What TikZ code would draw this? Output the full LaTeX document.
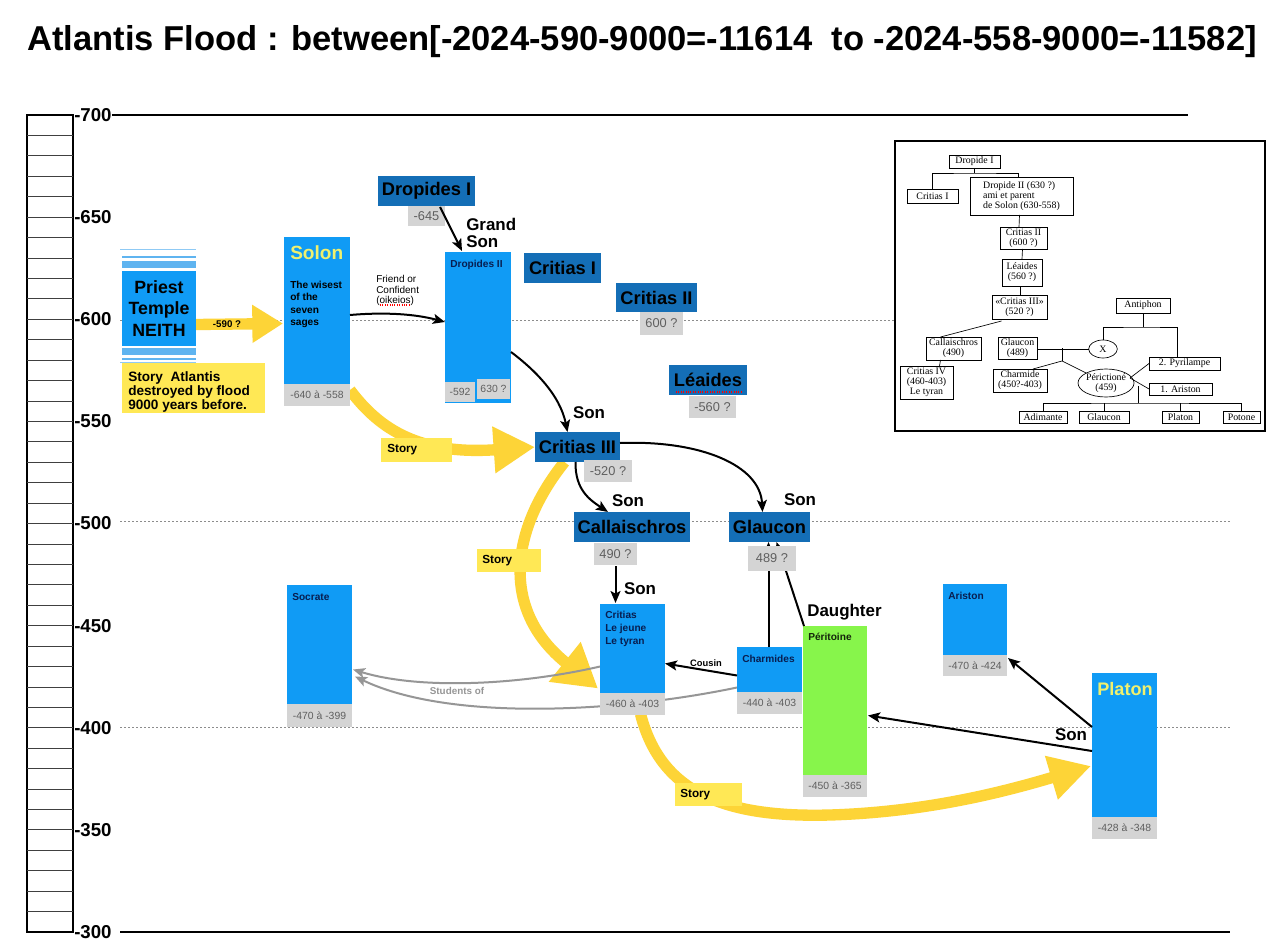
\documentclass[tikz,border=0pt]{standalone}
\usepackage{fontspec}
\setmainfont{Liberation Sans}
\newfontfamily\insetfont{Liberation Serif}
\usetikzlibrary{arrows.meta,fit,calc,shapes.geometric}
\definecolor{mblue}{RGB}{16,155,245}
\definecolor{lblue}{RGB}{95,180,240}
\definecolor{dblue}{RGB}{20,110,182}
\definecolor{navy}{RGB}{8,30,80}
\definecolor{gbox}{RGB}{212,212,212}
\definecolor{gtext}{RGB}{95,95,95}
\definecolor{ybox}{RGB}{255,232,85}
\definecolor{yarrow}{RGB}{253,212,55}
\definecolor{syellow}{RGB}{240,240,110}
\definecolor{green}{RGB}{135,245,75}
\definecolor{garrow}{RGB}{150,150,150}
\definecolor{dotgrey}{RGB}{140,140,140}
\newcommand\fsz[2]{\fontsize{#1}{#2}\selectfont}
\pgfdeclarelayer{bg}
\pgfsetlayers{bg,main}
\begin{document}
\begin{tikzpicture}[x=0.75pt,y=-0.75pt,
  box/.style={inner sep=0pt, outer sep=0pt, draw=none},
  bl/.style={box, fill=mblue},
  gr/.style={box, fill=green},
  db/.style={box, fill=dblue},
  dbt/.style={inner sep=0pt, font=\bfseries\fsz{13.7}{15}},
  gd/.style={box, fill=gbox},
  gdt/.style={inner sep=0pt, text=gtext, font=\fsz{7.8}{9}},
  gdlt/.style={inner sep=0pt, text=gtext, font=\fsz{9.6}{11}},
  yb/.style={box, fill=ybox},
  ytxt/.style={anchor=west, inner sep=0pt, font=\bfseries\fsz{8.8}{10}},
  bt/.style={anchor=north west, inner sep=0pt, text=navy, font=\bfseries\fsz{7.6}{9.6}, align=left},
  lbl/.style={inner sep=0pt, font=\bfseries\fsz{12.7}{12.75}, align=left},
  blk/.style={line width=1.5pt, -{Stealth[length=9pt,width=7.5pt,inset=2pt]}},
  gar/.style={draw=garrow, line width=1.5pt, -{Stealth[length=9pt,width=7.5pt,inset=2pt]}},
  yarr/.style={draw=yarrow, line width=8.5pt},
  dotl/.style={draw=dotgrey, line width=0.7pt, dash pattern=on 1.5pt off 1.5pt},
  ib/.style={draw, line width=0.5pt, inner sep=0pt, outer sep=0pt, fill=white},
  ibt/.style={inner sep=0pt, font=\insetfont\fsz{7.4}{7.5}, align=center},
  il/.style={line width=0.5pt}
]
\useasboundingbox (0,0) rectangle (1280,941);
\begin{pgfonlayer}{bg}
\fill[white] (0,0) rectangle (1280,941);
\draw[dotl] (120,320) -- (895,320);
\draw[dotl] (120,521) -- (1230,521);
\draw[dotl] (120,727) -- (1230,727);
\end{pgfonlayer}

% title
\node[anchor=base west, inner sep=0pt, font=\bfseries\fsz{25.9}{30}] (title) at (27,51)
  {Atlantis Flood : between[-2024-590-9000=-11614~ to -2024-558-9000=-11582]};

% axis ladder
\draw[line width=0.8pt] (27,115) rectangle (73,932);
\foreach \i in {1,...,39} {\draw[line width=0.6pt, draw=black!75] (27,{115+\i*20.425}) -- (73,{115+\i*20.425});}
\foreach \v [count=\k from 0] in {700,650,600,550,500,450,400,350,300}
  {\node[anchor=west, inner sep=0pt, font=\bfseries\fsz{14}{16}] (ax\v) at (74,{115+\k*102.125}) {-\v};}
\draw[line width=0.8pt] (ax700.east) -- (1188,115);
\draw[line width=0.8pt] (120,932) -- (1230,932);

% Priest temple
\fill[lblue!70] (120,249) rectangle (196,250);
\fill[lblue] (122,256) rectangle (196,258);
\fill[lblue] (122,261) rectangle (196,268);
\fill[lblue] (122,348) rectangle (196,355);
\fill[lblue] (122,358) rectangle (196,360);
\fill[lblue!70] (120,362) rectangle (196,363);
\node[bl, fit={(122,271)(196,346)}] (priest) {};
\node[inner sep=0pt, align=center, font=\bfseries\fsz{13.3}{16.1}] at (priest.center) {Priest\\Temple\\NEITH};
\node[yb, fit={(122,363)(265,413)}] (storyA) {};
\node[anchor=north west, inner sep=0pt, align=left, font=\bfseries\fsz{10.2}{9.4}] at (128,371) {Story~ Atlantis\\destroyed by flood\\9000 years before.};

% Solon
\node[bl, fit={(284,237)(350,384)}] (solon) {};
\node[gd, fit={(284,384)(350,406)}] (dsolon) {};
\node[gdt] at (dsolon.center) {-640 à -558};
\node[anchor=base west, inner sep=0pt, text=syellow, font=\bfseries\fsz{14.3}{16}] at (290,259) {Solon};
\node[anchor=north west, inner sep=0pt, align=left, font=\bfseries\fsz{7.6}{9.4}] at (290,280.5) {The wisest\\of the\\seven\\sages};

% Dropides I
\node[db, fit={(378,176)(475,206)}] (D1) {};
\node[dbt] at (D1.center) {Dropides I};
\node[gd, fit={(408,206)(445,226)}] (dD1) {};
\node[gdlt] at (dD1.center) {-645};
\node[lbl, anchor=north west] at (466,217.5) {Grand\\Son};

% Dropides II
\node[bl, fit={(445,252)(511,403)}] (D2) {};
\node[gd, fit={(445,382)(475,402)}] (dD2a) {};
\node[gdt] at (dD2a.center) {-592};
\node[gd, fit={(477,379)(510,399)}] (dD2b) {};
\node[gdt] at (dD2b.center) {630 ?};
\node[bt] at (450,260) {Dropides II};

% Friend label
\node[anchor=north west, inner sep=0pt, align=left, font=\fsz{7.5}{7.9}] at (376,275) {Friend or\\Confident\\(oikeios)};
\draw[red, densely dotted, line width=0.8pt] (380,305) -- (411,305);

% Critias I, II, Leaides
\node[db, fit={(524,253)(601,283)}] (C1) {};
\node[dbt] at (C1.center) {Critias I};
\node[db, fit={(616,283)(697,312)}] (C2) {};
\node[dbt] at (C2.center) {Critias II};
\node[gd, fit={(640,312)(683,335)}] (dC2) {};
\node[gdlt] at (dC2.center) {600 ?};
\node[db, fit={(669,365)(747,395)}] (L) {};
\node[dbt] at (L.center) {Léaides};
\draw[red, densely dotted, line width=0.8pt] (676,392) -- (741,392);
\node[gd, fit={(689,396)(736,418)}] (dL) {};
\node[gdlt] at (dL.center) {-560 ?};

% Critias III
\node[db, fit={(535,432)(620,462)}] (C3) {};
\node[dbt] at (C3.center) {Critias III};
\node[gd, fit={(584,460)(632,482)}] (dC3) {};
\node[gdlt] at (dC3.center) {-520 ?};

% Callaischros, Glaucon
\node[db, fit={(574,512)(690,542)}] (Ca) {};
\node[dbt] at (Ca.center) {Callaischros};
\node[gd, fit={(594,543)(637,565)}] (dCa) {};
\node[gdlt] at (dCa.center) {490 ?};
\node[db, fit={(729,512)(810,542)}] (Gl) {};
\node[dbt] at (Gl.center) {Glaucon};

% Critias le jeune
\node[bl, fit={(600,604)(665,693)}] (CJ) {};
\node[gd, fit={(600,693)(665,715)}] (dCJ) {};
\node[gdt] at (dCJ.center) {-460 à -403};
\node[bt] at (605,611) {Critias\\Le jeune\\Le tyran};

% Charmides
\node[bl, fit={(737,647)(802,692)}] (Ch) {};
\node[gd, fit={(737,692)(802,714)}] (dCh) {};
\node[gdt] at (dCh.center) {-440 à -403};
\node[bt] at (742,655) {Charmides};

% Peritoine
\node[gr, fit={(803,626)(867,775)}] (Pe) {};
\node[gd, fit={(803,775)(867,797)}] (dPe) {};
\node[gdt] at (dPe.center) {-450 à -365};
\node[bt, text=black!85!green] at (808,632.5) {Péritoine};
\node[lbl, anchor=west] at (807,612) {Daughter};

% Socrate
\node[bl, fit={(287,585)(352,704)}] (So) {};
\node[gd, fit={(287,704)(352,727)}] (dSo) {};
\node[gdt] at (dSo.center) {-470 à -399};
\node[bt] at (292,593) {Socrate};

% Ariston
\node[bl, fit={(943,584)(1007,655)}] (Ar) {};
\node[gd, fit={(943,655)(1007,676)}] (dAr) {};
\node[gdt] at (dAr.center) {-470 à -424};
\node[bt] at (948,592) {Ariston};

% Platon
\node[bl, fit={(1092,673)(1157,817)}] (Pl) {};
\node[gd, fit={(1092,817)(1157,839)}] (dPl) {};
\node[gdt] at (dPl.center) {-428 à -348};
\node[anchor=base west, inner sep=0pt, text=syellow, font=\bfseries\fsz{13.6}{16}] at (1097,695) {Platon};

% yellow story arrows
\begin{pgfonlayer}{bg}
\draw[yarr, -{Triangle[length=23pt,width=27pt]}] ($(priest.east)+(0,16)$) -- ($(solon.west)+(-1,13)$);
\draw[yarr, -{Triangle[length=31pt,width=33pt]}] ($(dsolon.north east)+(0,6)$) .. controls (380,430) and (420,455) .. (C3.west);
\draw[yarr, -{Triangle[length=32pt,width=36pt]}] ($(C3.south)+(-13,0)$) .. controls (510,530) and (500,610) .. ($(CJ.west)+(-2,40)$);
\draw[yarr, -{Triangle[length=31pt,width=32pt]}] ($(dCJ.south)+(8,-1)$) .. controls (660,790) and (720,818) .. (830,815) .. controls (930,812) and (1010,790) .. ($(Pl.west)+(-1,21)$);
% students of
\draw[gar] ($(CJ.west)+(0,18)$) .. controls (520,685) and (420,690) .. ($(So.east)+(1,25)$);
\draw[gar] ($(Ch.west)+(0,18)$) .. controls (620,712) and (450,722) .. ($(So.east)+(3,32)$);
\end{pgfonlayer}
\node[inner sep=0pt, text=garrow, font=\bfseries\fsz{7.4}{9}] at (457,691) {Students of};
\node[inner sep=0pt, font=\bfseries\fsz{7.3}{9}] at (227,324) {-590 ?};

\node[yb, fit={(381,438)(452,462)}] (sy1) {};
\node[ytxt] at (387,450) {Story};
\node[yb, fit={(477,549)(541,572)}] (sy2) {};
\node[ytxt] at (482,560.5) {Story};
\node[yb, fit={(675,783)(742,806)}] (sy3) {};
\node[ytxt] at (680,795) {Story};

% black connectors
\draw[blk] ($(dD1.north east)+(-5,1)$) -- ($(D2.north)+(-16,-1)$);
\draw[blk] ($(solon.north east)+(0,78)$) .. controls (385,312) and (415,314) .. ($(D2.north west)+(0,70)$);
\draw[blk] ($(D2.north east)+(0,100)$) .. controls (535,370) and (560,395) .. ($(C3.north)+(-10,0)$);
\node[lbl] at (589,413) {Son};
\draw[blk] ($(C3.south)+(-2,0)$) .. controls (575,490) and (590,500) .. ($(Ca.north)+(-24,0)$);
\node[lbl] at (628,501) {Son};
\draw[blk] ($(C3.east)+(0,-4)$) .. controls (700,440) and (760,465) .. ($(Gl.north)+(-7,0)$);
\node[lbl] at (800,500) {Son};
\draw[blk] ($(dCa.south)+(0,1)$) -- ($(CJ.north)+(-17,-1)$);
\node[lbl] at (640,589) {Son};
\draw[blk] ($(Ch.north)+(-1,0)$) -- ($(Gl.south)+(-1,0)$);
\draw[blk] ($(Pe.north west)+(1,0)$) -- ($(Gl.south)+(7,0)$);
\node[gd, fit={(748,546)(796,571)}] (dGl) {};
\node[gdlt] at (dGl.center) {489 ?};
\draw[blk] ($(Ch.west)+(0,6)$) -- ($(CJ.east)+(0,15)$);
\node[inner sep=0pt, font=\bfseries\fsz{7}{9}] at (706,663) {Cousin};
\draw[blk] ($(Pl.north west)+(0,54)$) -- ($(dAr.north east)+(1,3)$);
\draw[blk] ($(Pl.north west)+(0,78)$) -- ($(Pe.east)+(1,15)$);
\node[lbl] at (1071,735) {Son};

% inset family tree
\node[draw, line width=0.8pt, fill=white, inner sep=0pt, fit={(895,141)(1265,431)}] (inset) {};
\node[ib, fit={(949,155)(1000,168)}] (iD1) {};
\node[ibt] at (iD1.center) {Dropide I};
\node[ib, fit={(907,189)(958,203)}] (iC1) {};
\node[ibt] at (iC1.center) {Critias I};
\node[ib, fit={(970,177)(1073,215)}] (iD2) {};
\node[ibt, align=left] at (iD2.center) {Dropide II (630 ?)\\ami et parent\\de Solon (630-558)};
\node[ib, fit={(1000,227)(1047,249)}] (iC2) {};
\node[ibt] at (iC2.center) {Critias II\\(600 ?)};
\node[ib, fit={(1002,259)(1042,286)}] (iL) {};
\node[ibt] at (iL.center) {Léaides\\(560 ?)};
\node[ib, fit={(992,295)(1047,319)}] (iC3) {};
\node[ibt] at (iC3.center) {«Critias III»\\(520 ?)};
\node[ib, fit={(1116,298)(1170,313)}] (iAn) {};
\node[ibt] at (iAn.center) {Antiphon};
\node[ib, fit={(926,337)(981,360)}] (iCa) {};
\node[ibt] at (iCa.center) {Callaischros\\(490)};
\node[ib, fit={(998,337)(1037,359)}] (iGl) {};
\node[ibt] at (iGl.center) {Glaucon\\(489)};
\node[ib, ellipse, minimum width=21.5pt, minimum height=13.5pt] (iX) at (1103,349) {};
\node[ibt] at (iX.center) {X};
\node[ib, fit={(900,366)(953,399)}] (iC4) {};
\node[ibt] at (iC4.center) {Critias IV\\(460-403)\\Le tyran};
\node[ib, fit={(993,369)(1047,392)}] (iCh) {};
\node[ibt] at (iCh.center) {Charmide\\(450?-403)};
\node[ib, ellipse, minimum width=42pt, minimum height=21pt] (iPe) at (1106,383) {};
\node[ibt] at (iPe.center) {Périctioné\\(459)};
\node[ib, fit={(1149,357)(1220,370)}] (iPy) {};
\node[ibt] at (iPy.center) {2. Pyrilampe};
\node[ib, fit={(1149,383)(1212,395)}] (iAr) {};
\node[ibt] at (iAr.center) {1. Ariston};
\node[ib, fit={(1019,411)(1067,423)}] (iAd) {};
\node[ibt] at (iAd.center) {Adimante};
\node[ib, fit={(1079,411)(1129,423)}] (iG2) {};
\node[ibt] at (iG2.center) {Glaucon};
\node[ib, fit={(1162,411)(1199,423)}] (iPl) {};
\node[ibt] at (iPl.center) {Platon};
\node[ib, fit={(1223,411)(1260,423)}] (iPo) {};
\node[ibt] at (iPo.center) {Potone};

\draw[il] (iD1.south) -- ++(0,5) coordinate (j1);
\draw[il] (iC1.north) |- (j1) -| ($(iD2.north)+(-3,0)$);
\draw[il] ($(iD2.south)+(-2,0)$) -- ($(iC2.north)+(-4.5,0)$);
\draw[il] ($(iC2.south)+(-1,0)$) -- ($(iL.north)+(0,0)$);
\draw[il] ($(iL.south)+(-2,0)$) -- ($(iC3.north)+(0.5,0)$);
\draw[il] ($(iC3.south)+(-18,2)$) -- ($(iCa.north)+(-13,0)$);
\draw[il] ($(iCa.south)+(-13,0)$) -- ($(iC4.north)+(13,0)$);
\draw[il] (iGl.east |- iX.west) -- (iX.west);
\draw[il] (1062,348) -- (1062,361) coordinate (j2);
\draw[il] (j2) -- ($(iCh.north east)+(-14,0)$);
\draw[il] (j2) -- (iPe.north west);
\draw[il] (iAn.south) -- ++(0,14) coordinate (j3);
\draw[il] (iX.north) |- (j3) -| ($(iPy.north)+(-7,0)$);
\draw[il] (1130,378) -- (iPy.west);
\draw[il] (1130,378) -- (iAr.west);
\draw[il] (1138,386) -- (1138,403) coordinate (j4);
\draw[il] (iAd.north) |- (j4) -| (iPo.north);
\draw[il] (iG2.north) -- (iG2.north |- j4);
\draw[il] (iPl.north) -- (iPl.north |- j4);
\end{tikzpicture}
\end{document}
